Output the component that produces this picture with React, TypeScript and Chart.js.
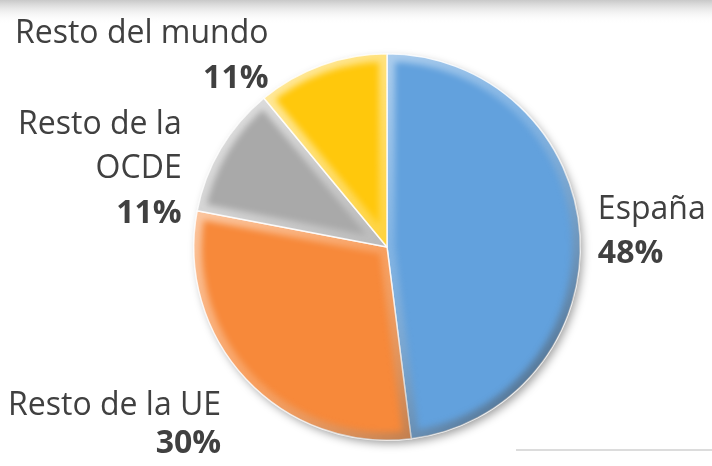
import React, { useEffect, useRef } from "react";
import { Chart, registerables } from "chart.js";

Chart.register(...registerables);

// ---- data ----
const categories = ["España", "Resto de la UE", "Resto de la OCDE", "Resto del mundo"];
const labelLines = [["España"], ["Resto de la UE"], ["Resto de la", "OCDE"], ["Resto del mundo"]];
const shares = [48, 30, 11, 11];
const colors = ["#62a1dd", "#f7893a", "#a9a9a9", "#ffc80c"];

// ---- label layout (style) : offset from slice's outer mid point ----
const labelLayout = [
  { align: "left", dx: 18, dy: -16, gap: 44 },
  { align: "right", dx: -25, dy: 36, gap: 38 },
  { align: "right", dx: -39, dy: -15, gap: 44.5 },
  { align: "right", dx: -53, dy: -22.5, gap: 45 },
];

const FONT = "'Open Sans', 'Noto Sans', sans-serif";
const TEXT_COLOR = "#404040";

const decorPlugin = {
  id: "decor",
  beforeDraw(chart: any) {
    const ctx = chart.ctx;
    const w = chart.width;
    const h = chart.height;
    ctx.save();
    ctx.fillStyle = "#ffffff";
    ctx.fillRect(0, 0, w, h);
    const g = ctx.createLinearGradient(0, 0, 0, 24);
    g.addColorStop(0, "rgba(200,200,200,1)");
    g.addColorStop(1, "rgba(255,255,255,0)");
    ctx.fillStyle = g;
    ctx.fillRect(0, 0, w, 24);
    ctx.strokeStyle = "#dcdcdc";
    ctx.lineWidth = 2;
    ctx.beginPath();
    ctx.moveTo(516, 450);
    ctx.lineTo(w, 450);
    ctx.stroke();
    ctx.restore();
  },
};

const bevelPlugin = {
  id: "bevel",
  beforeDatasetsDraw(chart: any) {
    const ctx = chart.ctx;
    const meta = chart.getDatasetMeta(0);
    const a = meta.data[0] as any;
    if (!a) return;
    ctx.save();
    ctx.shadowColor = "rgba(0,0,0,0.4)";
    ctx.shadowBlur = 10;
    ctx.shadowOffsetX = 3;
    ctx.shadowOffsetY = 4;
    ctx.fillStyle = "#ffffff";
    ctx.beginPath();
    ctx.arc(a.x, a.y, a.outerRadius - 1, 0, Math.PI * 2);
    ctx.fill();
    ctx.restore();
  },
  afterDatasetsDraw(chart: any) {
    const ctx = chart.ctx;
    const meta = chart.getDatasetMeta(0);
    meta.data.forEach((arc: any) => {
      const { x, y, startAngle, endAngle, outerRadius } = arc;
      ctx.save();
      ctx.beginPath();
      ctx.moveTo(x, y);
      ctx.arc(x, y, outerRadius, startAngle, endAngle);
      ctx.closePath();
      ctx.clip();
      const g = ctx.createLinearGradient(
        x - outerRadius,
        y - outerRadius,
        x + outerRadius,
        y + outerRadius
      );
      g.addColorStop(0, "rgba(255,255,255,0.75)");
      g.addColorStop(0.5, "rgba(255,255,255,0.2)");
      g.addColorStop(1, "rgba(0,0,0,0.55)");
      ctx.filter = "blur(3px)";
      ctx.lineWidth = 16;
      ctx.lineJoin = "round";
      ctx.strokeStyle = g;
      ctx.stroke();
      ctx.restore();
    });
  },
};

const labelPlugin = {
  id: "outerLabels",
  afterDraw(chart: any) {
    const ctx = chart.ctx;
    const meta = chart.getDatasetMeta(0);
    meta.data.forEach((arc: any, i: number) => {
      const { x, y, startAngle, endAngle, outerRadius } = arc;
      const mid = (startAngle + endAngle) / 2;
      const px = x + Math.cos(mid) * outerRadius;
      const py = y + Math.sin(mid) * outerRadius;
      const lay = labelLayout[i];
      const lines = labelLines[i];
      const tx = px + lay.dx;
      let ty = py + lay.dy;
      ctx.save();
      ctx.fillStyle = TEXT_COLOR;
      ctx.textAlign = lay.align;
      ctx.textBaseline = "alphabetic";
      ctx.font = `400 32px ${FONT}`;
      lines.forEach((ln) => {
        ctx.fillText(ln, tx, ty);
        ty += lay.gap;
      });
      ctx.font = `700 32px ${FONT}`;
      ctx.fillText(`${shares[i]}%`, tx, ty);
      ctx.restore();
    });
  },
};

export default function App() {
  const ref = useRef<HTMLCanvasElement | null>(null);
  useEffect(() => {
    document.body.style.margin = "0";
    const canvas = ref.current;
    if (!canvas) return;
    const chart = new Chart(canvas, {
      type: "pie",
      data: {
        labels: categories,
        datasets: [
          {
            data: shares,
            backgroundColor: colors,
            borderColor: "rgba(255,255,255,0.85)",
            borderWidth: 1.5,
          },
        ],
      },
      options: {
        responsive: false,
        animation: false,
        layout: { padding: { top: 53, bottom: 25, left: 193, right: 131 } },
        plugins: {
          legend: { display: false },
          tooltip: { enabled: false },
        },
      },
      plugins: [decorPlugin, bevelPlugin, labelPlugin],
    } as any);
    return () => chart.destroy();
  }, []);
  return (
    <div style={{ position: "absolute", left: 0, top: 0, width: 712, height: 466 }}>
      <canvas ref={ref} width={712} height={466} style={{ display: "block" }} />
    </div>
  );
}
